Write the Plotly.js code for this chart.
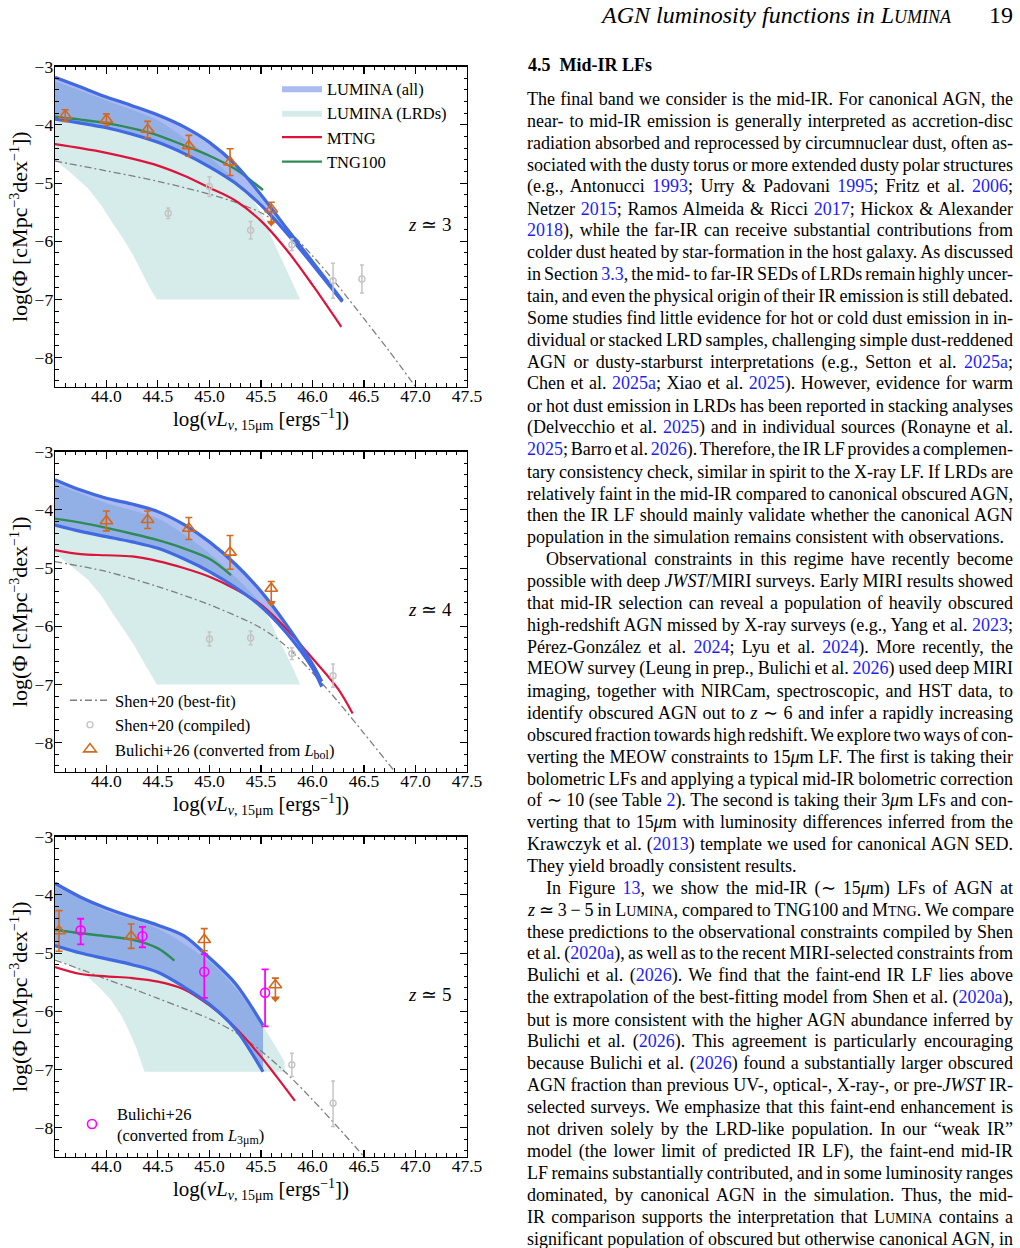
<!DOCTYPE html>
<html><head><meta charset="utf-8">
<script src="https://cdn.plot.ly/plotly-3.0.1.min.js"></script>
<style>html,body{margin:0;padding:0;background:#fff;}#chart{width:1020px;height:1248px;}</style>
</head><body><div id="chart"></div>
<script>
// ---------------- DATA: z ~ 3 ----------------
const lumX_z3  = [43.5, 43.75, 44.0, 44.25, 44.5, 44.75, 45.0, 45.25, 45.5, 45.75, 46.0, 46.29];
const lumUp_z3 = [-3.18, -3.35, -3.52, -3.67, -3.83, -4.03, -4.30, -4.68, -5.20, -5.78, -6.35, -7.02];
const lumLo_z3 = [-3.90, -3.97, -4.05, -4.16, -4.30, -4.49, -4.72, -5.00, -5.38, -5.86, -6.40, -7.04];
const lrdUpX_z3 = [43.5, 44.0, 44.5, 44.75, 45.0, 45.25, 45.4, 45.5, 45.62, 45.75, 45.88];
const lrdUpY_z3 = [-3.25, -3.58, -3.92, -4.22, -4.55, -4.95, -5.25, -5.5, -6.0, -6.5, -7.0];
const lrdLoX_z3 = [43.5, 43.65, 43.82, 43.95, 44.05, 44.16, 44.26, 44.35, 44.42, 44.49];
const lrdLoY_z3 = [-4.6, -4.82, -5.09, -5.38, -5.66, -5.95, -6.24, -6.55, -6.8, -7.0];
const tngX_z3  = [43.5, 43.75, 44.0, 44.25, 44.5, 44.75, 45.0, 45.25, 45.52];
const tngY_z3  = [-3.86, -3.91, -3.97, -4.06, -4.18, -4.35, -4.53, -4.76, -5.12];
const mtngX_z3 = [43.5, 43.75, 44.0, 44.25, 44.5, 44.75, 45.0, 45.25, 45.5, 45.75, 46.0, 46.28];
const mtngY_z3 = [-4.33, -4.40, -4.48, -4.58, -4.70, -4.87, -5.08, -5.30, -5.65, -6.15, -6.75, -7.47];
const shenFitX_z3 = [43.5, 44.0, 44.5, 45.0, 45.25, 45.5, 45.75, 46.0, 46.25, 46.5, 46.75, 47.0];
const shenFitY_z3 = [-4.62, -4.79, -4.97, -5.19, -5.33, -5.51, -5.80, -6.25, -6.77, -7.33, -7.90, -8.5];
const shenX_z3 = [44.6, 45.0, 45.4, 45.8, 46.2, 46.48];
const shenY_z3 = [-5.52, -5.06, -5.81, -6.06, -6.68, -6.65];
const shenErr_z3 = [0.09, 0.17, 0.15, 0.1, 0.3, 0.24];
const bolX_z3 = [43.6, 44.0, 44.4, 44.8, 45.2];
const bolY_z3 = [-3.84, -3.91, -4.08, -4.36, -4.64];
const bolErr_z3 = [0.1, 0.1, 0.14, 0.18, 0.23];
const bolLimX_z3 = [45.6];
const bolLimY_z3 = [-5.45];
const bolLimUp_z3 = [0.12];
const bolLimDown_z3 = [0.23];

// ---------------- DATA: z ~ 4 ----------------
const lumX_z4  = [43.5, 43.75, 44.0, 44.25, 44.5, 44.75, 45.0, 45.25, 45.5, 45.75, 46.0, 46.09];
const lumUp_z4 = [-3.48, -3.66, -3.80, -3.90, -4.03, -4.25, -4.55, -4.93, -5.40, -5.98, -6.65, -6.95];
const lumLo_z4 = [-4.26, -4.37, -4.46, -4.55, -4.66, -4.84, -5.06, -5.33, -5.66, -6.12, -6.72, -7.04];
const lrdUpX_z4 = [43.5, 44.0, 44.5, 44.75, 45.0, 45.25, 45.5, 45.68, 45.8, 45.88];
const lrdUpY_z4 = [-3.55, -3.88, -4.15, -4.42, -4.75, -5.15, -5.62, -6.25, -6.68, -7.0];
const lrdLoX_z4 = [43.5, 43.65, 43.82, 43.95, 44.05, 44.16, 44.26, 44.35, 44.42, 44.49];
const lrdLoY_z4 = [-4.75, -4.95, -5.2, -5.47, -5.75, -6.03, -6.3, -6.58, -6.8, -7.0];
const tngX_z4  = [43.5, 43.75, 44.0, 44.25, 44.5, 44.75, 45.0, 45.21];
const tngY_z4  = [-4.15, -4.22, -4.31, -4.41, -4.52, -4.66, -4.84, -5.12];
const mtngX_z4 = [43.5, 43.75, 44.0, 44.25, 44.5, 44.75, 45.0, 45.25, 45.5, 45.75, 46.0, 46.25, 46.39];
const mtngY_z4 = [-4.69, -4.76, -4.78, -4.80, -4.88, -5.00, -5.15, -5.36, -5.63, -6.05, -6.55, -7.08, -7.5];
const shenFitX_z4 = [43.5, 44.0, 44.5, 45.0, 45.5, 45.75, 46.0, 46.25, 46.5, 46.8];
const shenFitY_z4 = [-4.89, -5.06, -5.32, -5.63, -6.03, -6.35, -6.80, -7.30, -7.84, -8.5];
const shenX_z4 = [45.0, 45.4, 45.8, 46.2];
const shenY_z4 = [-6.22, -6.2, -6.47, -6.85];
const shenErr_z4 = [0.12, 0.12, 0.1, 0.2];
const bolX_z4 = [44.0, 44.4, 44.8, 45.2];
const bolY_z4 = [-4.19, -4.17, -4.32, -4.73];
const bolErr_z4 = [0.17, 0.15, 0.19, 0.29];
const bolLimX_z4 = [45.6];
const bolLimY_z4 = [-5.35];
const bolLimUp_z4 = [0.12];
const bolLimDown_z4 = [0.25];

// ---------------- DATA: z ~ 5 ----------------
const lumX_z5  = [43.5, 43.75, 44.0, 44.25, 44.5, 44.75, 45.0, 45.25, 45.52];
const lumUp_z5 = [-3.80, -4.04, -4.23, -4.38, -4.52, -4.70, -5.08, -5.52, -6.24];
const lumLo_z5 = [-4.87, -5.00, -5.10, -5.20, -5.33, -5.58, -5.88, -6.30, -7.04];
const lrdUpX_z5 = [43.5, 44.0, 44.5, 45.0, 45.25, 45.52, 45.73];
const lrdUpY_z5 = [-3.85, -4.28, -4.58, -5.15, -5.6, -6.26, -6.87];
const lrdLoX_z5 = [43.5, 43.65, 43.82, 43.95, 44.05, 44.15, 44.23, 44.3, 44.37, 45.73];
const lrdLoY_z5 = [-5.09, -5.22, -5.41, -5.62, -5.82, -6.09, -6.38, -6.68, -7.04, -7.04];
const tngX_z5  = [43.5, 43.75, 44.0, 44.25, 44.5, 44.66];
const tngY_z5  = [-4.60, -4.66, -4.71, -4.77, -4.92, -5.13];
const mtngX_z5 = [43.5, 43.75, 44.0, 44.25, 44.5, 44.75, 45.0, 45.25, 45.5, 45.65, 45.83];
const mtngY_z5 = [-5.24, -5.36, -5.40, -5.43, -5.49, -5.62, -5.90, -6.28, -6.78, -7.12, -7.54];
const shenFitX_z5 = [43.5, 43.75, 44.0, 44.25, 44.5, 44.75, 45.0, 45.25, 45.5, 45.75, 46.0, 46.25, 46.5];
const shenFitY_z5 = [-5.12, -5.28, -5.45, -5.61, -5.78, -5.95, -6.13, -6.36, -6.68, -7.07, -7.52, -8.0, -8.5];
const shenX_z5 = [45.8, 46.2];
const shenY_z5 = [-6.92, -7.58];
const shenErrUp_z5 = [0.2, 0.38];
const shenErrDown_z5 = [0.2, 0.4];
const bolX_z5 = [43.54, 44.24, 44.95];
const bolY_z5 = [-4.62, -4.71, -4.77];
const bolErr_z5 = [0.35, 0.21, 0.19];
const bolLimX_z5 = [45.64];
const bolLimY_z5 = [-5.55];
const bolLimUp_z5 = [0.12];
const bolLimDown_z5 = [0.23];
const l3X_z5 = [43.75, 44.35, 44.95, 45.54];
const l3Y_z5 = [-4.61, -4.71, -5.32, -5.68];
const l3ErrUp_z5 = [0.2, 0.16, 0.3, 0.4];
const l3ErrDown_z5 = [0.24, 0.19, 0.45, 0.58];

// ---------------- labels ----------------
const SUBX = 'font-size:14px;baseline-shift:-4px';
const SUPY = 'font-size:14px;baseline-shift:8px';
const redshiftLabels = ['<i>z</i> ≃ 3', '<i>z</i> ≃ 4', '<i>z</i> ≃ 5'];
const xTitle = 'log(<i>νL</i><span style="' + SUBX + ';font-style:italic">ν</span><span style="' + SUBX + '">, 15μm</span> [ergs<span style="' + SUPY + '">−1</span>])';
const yTitle = 'log(Φ [cMpc<span style="' + SUPY + '">−3</span>dex<span style="' + SUPY + '">−1</span>])';
const legendNames = {
  all: 'LUMINA (all)', lrd: 'LUMINA (LRDs)', mtng: 'MTNG', tng: 'TNG100',
  shenFit: 'Shen+20 (best-fit)', shen: 'Shen+20 (compiled)',
  bol: 'Bulichi+26 (converted from <i>L</i><span style="font-size:12px;baseline-shift:-3px">bol</span>)',
  l3: 'Bulichi+26<br>(converted from <i>L</i><span style="font-size:12px;baseline-shift:-3px">3μm</span>)'
};

const headerText = '<i>AGN luminosity functions in L<span style="font-size:18px">UMINA</span></i>';
const pageNumber = '19';
const sectionTitle = '<b>4.5  Mid-IR LFs</b>';
const bodyLines = [
 'The final band we consider is the mid-IR. For canonical AGN, the',
 'near- to mid-IR emission is generally interpreted as accretion-disc',
 'radiation absorbed and reprocessed by circumnuclear dust, often as-',
 'sociated with the dusty torus or more extended dusty polar structures',
 '(e.g., Antonucci {1993}; Urry &amp; Padovani {1995}; Fritz et al. {2006};',
 'Netzer {2015}; Ramos Almeida &amp; Ricci {2017}; Hickox &amp; Alexander',
 '{2018}), while the far-IR can receive substantial contributions from',
 'colder dust heated by star-formation in the host galaxy. As discussed',
 'in Section {3.3}, the mid- to far-IR SEDs of LRDs remain highly uncer-',
 'tain, and even the physical origin of their IR emission is still debated.',
 'Some studies find little evidence for hot or cold dust emission in in-',
 'dividual or stacked LRD samples, challenging simple dust-reddened',
 'AGN or dusty-starburst interpretations (e.g., Setton et al. {2025a};',
 'Chen et al. {2025a}; Xiao et al. {2025}). However, evidence for warm',
 'or hot dust emission in LRDs has been reported in stacking analyses',
 '(Delvecchio et al. {2025}) and in individual sources (Ronayne et al.',
 '{2025}; Barro et al. {2026}). Therefore, the IR LF provides a complemen-',
 'tary consistency check, similar in spirit to the X-ray LF. If LRDs are',
 'relatively faint in the mid-IR compared to canonical obscured AGN,',
 'then the IR LF should mainly validate whether the canonical AGN',
 'population in the simulation remains consistent with observations.',
 'Observational constraints in this regime have recently become',
 'possible with deep <i>JWST</i>/MIRI surveys. Early MIRI results showed',
 'that mid-IR selection can reveal a population of heavily obscured',
 'high-redshift AGN missed by X-ray surveys (e.g., Yang et al. {2023};',
 'Pérez-González et al. {2024}; Lyu et al. {2024}). More recently, the',
 'MEOW survey (Leung in prep., Bulichi et al. {2026}) used deep MIRI',
 'imaging, together with NIRCam, spectroscopic, and HST data, to',
 'identify obscured AGN out to <i>z</i> ∼ 6 and infer a rapidly increasing',
 'obscured fraction towards high redshift. We explore two ways of con-',
 'verting the MEOW constraints to 15<i>μ</i>m LF. The first is taking their',
 'bolometric LFs and applying a typical mid-IR bolometric correction',
 'of ∼ 10 (see Table {2}). The second is taking their 3<i>μ</i>m LFs and con-',
 'verting that to 15<i>μ</i>m with luminosity differences inferred from the',
 'Krawczyk et al. ({2013}) template we used for canonical AGN SED.',
 'They yield broadly consistent results.',
 'In Figure {13}, we show the mid-IR (∼ 15<i>μ</i>m) LFs of AGN at',
 '<i>z</i> ≃ 3 − 5 in L[[UMINA]], compared to TNG100 and M[[TNG]]. We compare',
 'these predictions to the observational constraints compiled by Shen',
 'et al. ({2020a}), as well as to the recent MIRI-selected constraints from',
 'Bulichi et al. ({2026}). We find that the faint-end IR LF lies above',
 'the extrapolation of the best-fitting model from Shen et al. ({2020a}),',
 'but is more consistent with the higher AGN abundance inferred by',
 'Bulichi et al. ({2026}). This agreement is particularly encouraging',
 'because Bulichi et al. ({2026}) found a substantially larger obscured',
 'AGN fraction than previous UV-, optical-, X-ray-, or pre-<i>JWST</i> IR-',
 'selected surveys. We emphasize that this faint-end enhancement is',
 'not driven solely by the LRD-like population. In our “weak IR”',
 'model (the lower limit of predicted IR LF), the faint-end mid-IR',
 'LF remains substantially contributed, and in some luminosity ranges',
 'dominated, by canonical AGN in the simulation. Thus, the mid-',
 'IR comparison supports the interpretation that L[[UMINA]] contains a',
 'significant population of obscured but otherwise canonical AGN, in'
];
const indentLines = [21, 36];
const raggedLines = [20, 35];

// ---------------- STYLE ----------------
const FONT = 'Liberation Serif, Times New Roman, serif';
const TEAL = '#d5ecea', BLUEFILL = 'rgba(65,105,225,0.45)', BLUE = '#4169e1';
const RED = '#dc143c', GREEN = '#2e8b57', ORANGE = '#d2691e', GREY = '#c4c4c4';
const DASHGREY = '#7f7f7f', MAGENTA = '#ff00ff', LINK = 'rgb(30,30,240)';
const W = 1020, H = 1248;
const px = v => v / W, py = v => 1 - v / H;
const frames = [{top: 66.7, bottom: 386.7}, {top: 451.7, bottom: 771.7}, {top: 836.7, bottom: 1156.7}];

const panels = [
 {lumX: lumX_z3, lumUp: lumUp_z3, lumLo: lumLo_z3, lrdUpX: lrdUpX_z3, lrdUpY: lrdUpY_z3, lrdLoX: lrdLoX_z3, lrdLoY: lrdLoY_z3,
  tngX: tngX_z3, tngY: tngY_z3, mtngX: mtngX_z3, mtngY: mtngY_z3, fitX: shenFitX_z3, fitY: shenFitY_z3,
  shenX: shenX_z3, shenY: shenY_z3, shenUp: shenErr_z3, shenDown: shenErr_z3,
  bolX: bolX_z3, bolY: bolY_z3, bolErr: bolErr_z3, limX: bolLimX_z3, limY: bolLimY_z3, limUp: bolLimUp_z3, limDown: bolLimDown_z3},
 {lumX: lumX_z4, lumUp: lumUp_z4, lumLo: lumLo_z4, lrdUpX: lrdUpX_z4, lrdUpY: lrdUpY_z4, lrdLoX: lrdLoX_z4, lrdLoY: lrdLoY_z4,
  tngX: tngX_z4, tngY: tngY_z4, mtngX: mtngX_z4, mtngY: mtngY_z4, fitX: shenFitX_z4, fitY: shenFitY_z4,
  shenX: shenX_z4, shenY: shenY_z4, shenUp: shenErr_z4, shenDown: shenErr_z4,
  bolX: bolX_z4, bolY: bolY_z4, bolErr: bolErr_z4, limX: bolLimX_z4, limY: bolLimY_z4, limUp: bolLimUp_z4, limDown: bolLimDown_z4},
 {lumX: lumX_z5, lumUp: lumUp_z5, lumLo: lumLo_z5, lrdUpX: lrdUpX_z5, lrdUpY: lrdUpY_z5, lrdLoX: lrdLoX_z5, lrdLoY: lrdLoY_z5,
  tngX: tngX_z5, tngY: tngY_z5, mtngX: mtngX_z5, mtngY: mtngY_z5, fitX: shenFitX_z5, fitY: shenFitY_z5,
  shenX: shenX_z5, shenY: shenY_z5, shenUp: shenErrUp_z5, shenDown: shenErrDown_z5,
  bolX: bolX_z5, bolY: bolY_z5, bolErr: bolErr_z5, limX: bolLimX_z5, limY: bolLimY_z5, limUp: bolLimUp_z5, limDown: bolLimDown_z5,
  l3X: l3X_z5, l3Y: l3Y_z5, l3Up: l3ErrUp_z5, l3Down: l3ErrDown_z5}
];

const data = [];
panels.forEach((P, k) => {
  const n = k + 1;
  const base = {xaxis: n === 1 ? 'x' : 'x' + n, yaxis: n === 1 ? 'y' : 'y' + n,
                legend: n === 1 ? 'legend' : 'legend' + n, hoverinfo: 'skip', showlegend: false};
  const spl = {shape: 'spline', smoothing: 0.9};
  data.push({...base, x: P.lrdLoX, y: P.lrdLoY, mode: 'lines', line: {width: 0, color: TEAL}});
  data.push({...base, x: P.lrdUpX, y: P.lrdUpY, mode: 'lines', line: {width: 0, color: TEAL, ...spl},
             fill: 'tonexty', fillcolor: TEAL, name: legendNames.lrd, showlegend: n === 1, legendrank: 2});
  data.push({...base, x: P.lumX, y: P.lumLo, mode: 'lines', line: {width: 0, color: BLUE, ...spl}});
  data.push({...base, x: P.lumX, y: P.lumUp, mode: 'lines', line: {width: 0, color: BLUE, ...spl},
             fill: 'tonexty', fillcolor: BLUEFILL, name: legendNames.all, showlegend: n === 1, legendrank: 1});
  data.push({...base, x: P.fitX, y: P.fitY, mode: 'lines', name: legendNames.shenFit,
             line: {color: DASHGREY, width: 1.3, dash: '7px,3px,2px,3px', ...spl}, showlegend: n === 2, legendrank: 1});
  data.push({...base, x: P.mtngX, y: P.mtngY, mode: 'lines', name: legendNames.mtng,
             line: {color: RED, width: 2.2, ...spl}, showlegend: n === 1, legendrank: 3});
  data.push({...base, x: P.tngX, y: P.tngY, mode: 'lines', name: legendNames.tng,
             line: {color: GREEN, width: 2.4, ...spl}, showlegend: n === 1, legendrank: 4});
  data.push({...base, x: P.lumX, y: P.lumUp, mode: 'lines', line: {color: BLUE, width: 3.2, ...spl}});
  data.push({...base, x: P.lumX, y: P.lumLo, mode: 'lines', line: {color: BLUE, width: 3.2, ...spl}});
  data.push({...base, x: P.shenX, y: P.shenY, mode: 'markers', name: legendNames.shen,
             marker: {symbol: 'circle-open', size: 6, color: GREY, line: {width: 1.4, color: GREY}},
             error_y: {type: 'data', symmetric: false, array: P.shenUp, arrayminus: P.shenDown, color: GREY, thickness: 1.5, width: 2},
             showlegend: n === 2, legendrank: 2});
  data.push({...base, x: P.bolX, y: P.bolY, mode: 'markers', name: legendNames.bol,
             marker: {symbol: 'triangle-up-open', size: 11, color: ORANGE, line: {width: 1.6, color: ORANGE}},
             error_y: {type: 'data', array: P.bolErr, color: ORANGE, thickness: 1.6, width: 3.5},
             showlegend: n === 2, legendrank: 3});
  data.push({...base, x: P.limX, y: P.limY, mode: 'markers',
             marker: {symbol: 'triangle-up-open', size: 11, color: ORANGE, line: {width: 1.6, color: ORANGE}},
             error_y: {type: 'data', symmetric: false, array: P.limUp, arrayminus: P.limDown, color: ORANGE, thickness: 1.6, width: 3.5}});
  data.push({...base, x: P.limX, y: P.limY.map((v, i) => v - P.limDown[i]), mode: 'markers',
             marker: {symbol: 'triangle-down', size: 8, color: ORANGE}});
  if (P.l3X) {
    data.push({...base, x: P.l3X, y: P.l3Y, mode: 'markers', name: legendNames.l3,
               marker: {symbol: 'circle-open', size: 9, color: MAGENTA, line: {width: 1.6, color: MAGENTA}},
               error_y: {type: 'data', symmetric: false, array: P.l3Up, arrayminus: P.l3Down, color: MAGENTA, thickness: 1.8, width: 3.5},
               showlegend: true});
  }
});

// ---------------- LAYOUT ----------------
const tickFont = {family: FONT, size: 17.5, color: '#000'};
function xAxis(n) {
  return {domain: [px(55), px(467)], anchor: n === 1 ? 'y' : 'y' + n, range: [43.501, 47.5],
    tickmode: 'linear', tick0: 44, dtick: 0.5, tickformat: '.1f', ticklabelstandoff: -7,
    ticks: 'inside', ticklen: 7, tickwidth: 1.1, tickcolor: '#000',
    showline: true, linecolor: '#000', linewidth: 1.3, mirror: 'allticks',
    showgrid: false, zeroline: false, automargin: false, fixedrange: true,
    minor: {tickmode: 'linear', tick0: 43.5, dtick: 0.1, ticks: 'inside', ticklen: 3.5, tickwidth: 1, tickcolor: '#000', showgrid: false},
    tickfont: tickFont, title: {text: xTitle, font: {family: FONT, size: 21, color: '#000'}, standoff: 0}};
}
function yAxis(n, f) {
  return {domain: [py(f.bottom), py(f.top)], anchor: n === 1 ? 'x' : 'x' + n, range: [-8.5, -3],
    tickmode: 'linear', tick0: -3, dtick: 1, ticklabelstandoff: -3,
    ticks: 'inside', ticklen: 7, tickwidth: 1.1, tickcolor: '#000',
    showline: true, linecolor: '#000', linewidth: 1.3, mirror: 'allticks',
    showgrid: false, zeroline: false, automargin: false, fixedrange: true,
    minor: {tickmode: 'linear', tick0: -3, dtick: 0.2, ticks: 'inside', ticklen: 3.5, tickwidth: 1, tickcolor: '#000', showgrid: false},
    tickfont: tickFont, title: {text: yTitle, font: {family: FONT, size: 22, color: '#000'}, standoff: 1}};
}

const legFont = {family: FONT, size: 16.5, color: '#000'};
const layout = {
  width: W, height: H, margin: {l: 0, r: 0, t: 0, b: 0},
  paper_bgcolor: '#fff', plot_bgcolor: '#fff',
  font: {family: FONT, color: '#000'},
  legend:  {x: px(277), y: py(71), xanchor: 'left', yanchor: 'top', bgcolor: 'rgba(0,0,0,0)', font: legFont, itemwidth: 40, traceorder: 'normal'},
  legend2: {x: px(65), y: py(683), xanchor: 'left', yanchor: 'top', bgcolor: 'rgba(0,0,0,0)', font: legFont, itemwidth: 40, traceorder: 'normal'},
  legend3: {x: px(67), y: py(1096), xanchor: 'left', yanchor: 'top', bgcolor: 'rgba(0,0,0,0)', font: legFont, itemwidth: 40},
  annotations: [],
  showlegend: true
};
frames.forEach((f, k) => {
  const n = k + 1;
  layout[n === 1 ? 'xaxis' : 'xaxis' + n] = xAxis(n);
  layout[n === 1 ? 'yaxis' : 'yaxis' + n] = yAxis(n, f);
  layout.annotations.push({xref: n === 1 ? 'x' : 'x' + n, yref: n === 1 ? 'y' : 'y' + n,
    x: 47.14, y: -5.72, text: redshiftLabels[k], showarrow: false, font: {family: FONT, size: 19, color: '#000'}});
});

layout.annotations.push({xref: 'paper', yref: 'paper', x: px(953), y: py(15), xanchor: 'right', yanchor: 'middle',
  text: headerText, showarrow: false, font: {family: FONT, size: 24, color: '#000'}, borderpad: 0});
layout.annotations.push({xref: 'paper', yref: 'paper', x: px(1014), y: py(15), xanchor: 'right', yanchor: 'middle',
  text: pageNumber, showarrow: false, font: {family: FONT, size: 24, color: '#000'}, borderpad: 0});
layout.annotations.push({xref: 'paper', yref: 'paper', x: px(527), y: py(65), xanchor: 'left', yanchor: 'middle',
  text: sectionTitle, showarrow: false, font: {family: FONT, size: 18, color: '#000'}, borderpad: 0});

function fmt(s) {
  return s.replace(/\{([^}]*)\}/g, '<span style="color:' + LINK + '">$1</span>')
          .replace(/\[\[([^\]]*)\]\]/g, '<span style="font-size:14px">$1</span>');
}
const justify = {};
bodyLines.forEach((s, i) => {
  const x0 = indentLines.includes(i) ? 546 : 527;
  const idx = layout.annotations.length;
  layout.annotations.push({xref: 'paper', yref: 'paper', x: px(x0), y: py(99 + i * 21.92), xanchor: 'left', yanchor: 'middle',
    align: 'left', text: fmt(s), showarrow: false, borderpad: 0, borderwidth: 0, font: {family: FONT, size: 18, color: '#000'}});
  if (!raggedLines.includes(i)) {
    const plain = s.replace(/<[^>]+>/g, '').replace(/[{}\[\]]/g, '');
    justify[idx] = {target: 1013 - x0, spaces: (plain.match(/ /g) || []).length};
  }
});

Plotly.newPlot('chart', data, layout, {displayModeBar: false, staticPlot: true}).then(gd => {
  gd.querySelectorAll('g.annotation').forEach(g => {
    const idx = +g.getAttribute('data-index');
    const j = justify[idx];
    if (!j || !j.spaces) return;
    const t = g.querySelector('text.annotation-text');
    if (!t) return;
    const w = t.getComputedTextLength();
    const extra = (j.target - w) / j.spaces;
    if (extra > -4 && extra < 12) t.style.wordSpacing = extra.toFixed(2) + 'px';
  });
});
</script></body></html>
